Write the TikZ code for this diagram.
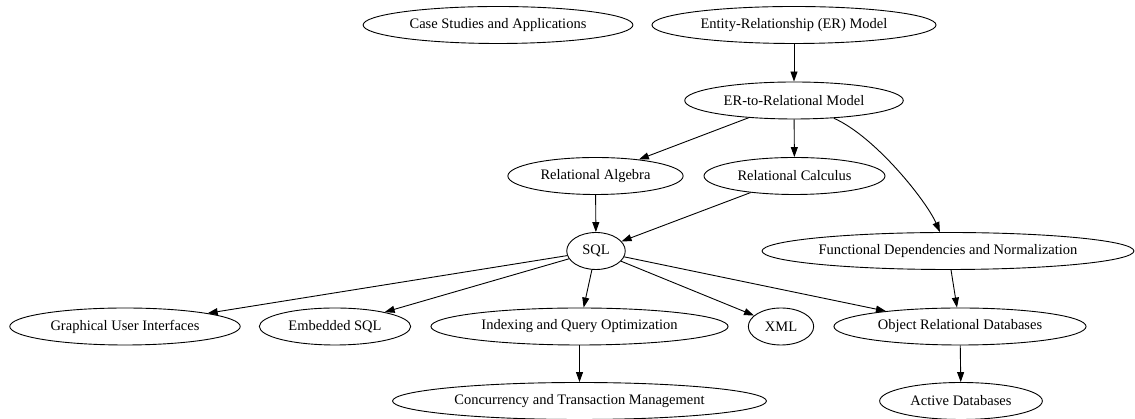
\documentclass[tikz,border=0pt]{standalone}
\usepackage{fontspec}
\setmainfont{Liberation Serif}
\usetikzlibrary{shapes.geometric,arrows.meta}
\tikzset{
  topic/.style={draw,ellipse,line width=0.9pt,inner xsep=7pt,inner ysep=0pt,
    minimum height=37pt,font=\fontsize{14.5}{17}\selectfont},
  edge/.style={line width=0.9pt,-{Triangle[length=10pt,width=7pt]}}
}
\begin{document}
\begin{tikzpicture}[x=1pt,y=1pt]
  \useasboundingbox (0,0) rectangle (1135,419);
  \node[topic] (case) at (498,394) {Case Studies and Applications};
  \node[topic] (entity) at (794,394) {Entity-Relationship (ER) Model};
  \node[topic] (ertorel) at (794,318.5) {ER-to-Relational Model};
  \node[topic] (algebra) at (595.5,243) {Relational Algebra};
  \node[topic] (calculus) at (794.5,243) {Relational Calculus};
  \node[topic] (sql) at (596,168) {SQL};
  \node[topic,inner xsep=2pt] (fd) at (948,168) {Functional Dependencies and Normalization};
  \node[topic] (gui) at (125,92.5) {Graphical User Interfaces};
  \node[topic] (embedded) at (335,92.5) {Embedded SQL};
  \node[topic] (indexing) at (579.5,92.5) {Indexing and Query Optimization};
  \node[topic] (xml) at (781,92.5) {XML};
  \node[topic] (ordb) at (960,92.5) {Object Relational Databases};
  \node[topic] (concurrency) at (579.5,18) {Concurrency and Transaction Management};
  \node[topic] (active) at (961,18) {Active Databases};
  \foreach \a/\b in {entity/ertorel,ertorel/algebra,ertorel/calculus,algebra/sql,
      calculus/sql,sql/gui,sql/embedded,sql/indexing,sql/xml,sql/ordb,fd/ordb,
      indexing/concurrency,ordb/active}
    \draw[edge] (\a) -- (\b);
  \draw[edge] (ertorel) .. controls (876,282) and (927,217) .. (fd);
\end{tikzpicture}
\end{document}
